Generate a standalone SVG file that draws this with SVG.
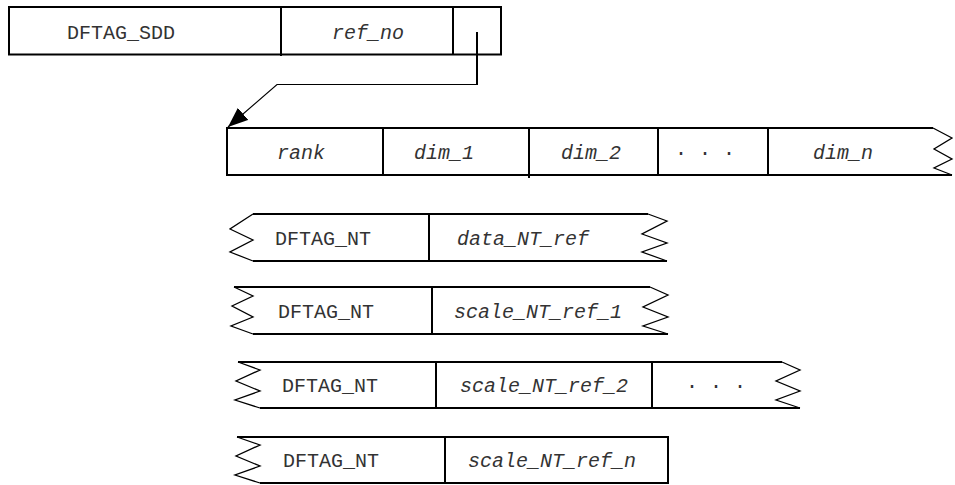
<svg xmlns="http://www.w3.org/2000/svg" width="955" height="485" viewBox="0 0 955 485">
<defs>
<style>
.box{fill:none;stroke:#000;stroke-width:2;stroke-linejoin:miter}
.div{stroke:#000;stroke-width:2}
.zz{fill:none;stroke:#000;stroke-width:1.3}
.m{font-family:"Nimbus Mono PS","Courier New",Courier,FreeMono,"Liberation Mono",monospace;font-size:20px;fill:#333;text-anchor:middle}
.i{font-family:"Nimbus Mono PS","Courier New",Courier,FreeMono,"Liberation Mono",monospace;font-size:20px;font-style:italic;fill:#333;text-anchor:middle}
.c{fill:none;stroke:#000;stroke-width:1.2}
</style>
<marker id="ah" viewBox="0 0 20 16" refX="20" refY="8" markerWidth="20" markerHeight="16" markerUnits="userSpaceOnUse" orient="auto">
<path d="M0,0 L20,8 L0,16 Z" fill="#000"/>
</marker>
</defs>
<rect width="955" height="485" fill="#fff"/>

<g id="sdd">
<rect class="box" x="9" y="7" width="492" height="47.5"/>
<line class="div" x1="281" y1="7" x2="281" y2="56"/>
<line class="div" x1="453" y1="7" x2="453" y2="54.5"/>
<text class="m" x="121" y="39">DFTAG_SDD</text>
<text class="i" x="368" y="39">ref_no</text>
</g>

<g id="connectors">
<line x1="477" y1="32" x2="477" y2="85" stroke="#000" stroke-width="2"/>
<polyline class="c" points="477,84.5 277,84.5 228,127" marker-end="url(#ah)"/>
</g>

<g id="dims">
<path class="box" d="M933,128 L227,128 L227,175 L952,175"/>
<polyline class="zz" points="933,128 952,138 934,149 952,159 934,168 952,175"/>
<line class="div" x1="383" y1="128" x2="383" y2="175"/>
<line class="div" x1="529" y1="128" x2="529" y2="178"/>
<line class="div" x1="658" y1="128" x2="658" y2="175"/>
<line class="div" x1="768" y1="128" x2="768" y2="175"/>
<text class="i" x="301" y="159">rank</text>
<text class="i" x="444" y="159">dim_1</text>
<text class="i" x="591" y="159">dim_2</text>
<text class="m" x="705" y="159">· · ·</text>
<text class="i" x="843" y="159">dim_n</text>
</g>

<g id="row1">
<path class="box" d="M253,214 L648,214 M253,261 L667,261"/>
<polyline class="zz" points="253,214 230,229 253,240 230,252 253,261"/>
<polyline class="zz" points="648,214 667,221 642,234 667,243 642,252 667,261"/>
<line class="div" x1="429" y1="214" x2="429" y2="261"/>
<text class="m" x="323" y="245">DFTAG_NT</text>
<text class="i" x="523" y="245">data_NT_ref</text>
</g>

<g id="row2">
<path class="box" d="M234,287 L650,287 M253,334 L668,334"/>
<polyline class="zz" points="234,287 253,296 232,306 253,317 231,326 253,334"/>
<polyline class="zz" points="650,287 668,295 643,307 668,317 643,326 668,334"/>
<line class="div" x1="432" y1="287" x2="432" y2="334"/>
<text class="m" x="326" y="318">DFTAG_NT</text>
<text class="i" x="538" y="318">scale_NT_ref_1</text>
</g>

<g id="row3">
<path class="box" d="M238,362 L782,362 M260,408 L800,408"/>
<polyline class="zz" points="238,362 260,370 236,381 260,391 235,400 260,408"/>
<polyline class="zz" points="782,362 800,370 776,381 800,391 776,400 800,408"/>
<line class="div" x1="436" y1="362" x2="436" y2="408"/>
<line class="div" x1="652" y1="362" x2="652" y2="408"/>
<text class="m" x="330" y="392">DFTAG_NT</text>
<text class="i" x="544" y="392">scale_NT_ref_2</text>
<text class="m" x="716" y="392">· · ·</text>
</g>

<g id="row4">
<path class="box" d="M237,437 L668,437 L668,483 L260,483"/>
<polyline class="zz" points="237,437 260,445 236,456 260,466 235,475 260,483"/>
<line class="div" x1="445" y1="437" x2="445" y2="483"/>
<text class="m" x="331" y="467">DFTAG_NT</text>
<text class="i" x="552" y="467">scale_NT_ref_n</text>
</g>
</svg>
